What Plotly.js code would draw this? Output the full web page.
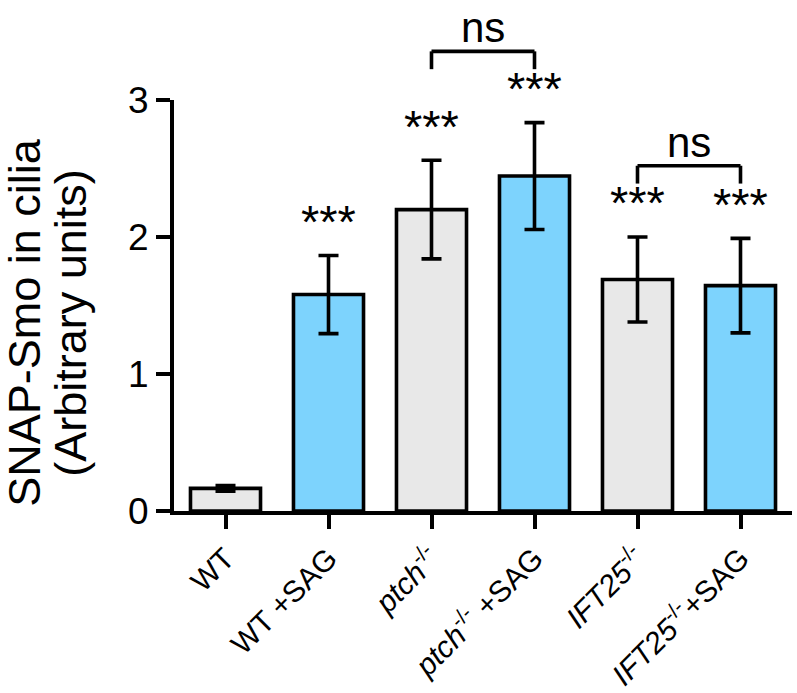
<!DOCTYPE html>
<html>
<head>
<meta charset="utf-8">
<script src="https://cdn.plot.ly/plotly-3.0.1.min.js"></script>
<style>html,body{margin:0;padding:0;background:#fff;}</style>
</head>
<body>
<div id="chart" style="width:797px;height:693px;"></div>
<script>
// ---- data ----
const categories = ["WT", "WT +SAG", "ptch", "ptch +SAG", "IFT25", "IFT25 +SAG"];
const tickLabels = ["WT", "WT +SAG", "<i>ptch</i><sup>-/-</sup>", "<i>ptch</i><sup>-/-</sup> +SAG",
                    "<i>IFT25</i><sup>-/-</sup>", "<i>IFT25</i><sup>-/-</sup>+SAG"];
const means = [0.165, 1.58, 2.20, 2.445, 1.69, 1.645];
const errors = [0.02, 0.285, 0.36, 0.39, 0.31, 0.345];
const barColors = ["#e8e8e8", "#7dd3fd", "#e8e8e8", "#7dd3fd", "#e8e8e8", "#7dd3fd"];
const starLabels = ["", "***", "***", "***", "***", "***"];
const nsPairs = [[2, 3], [4, 5]];
const nsLabels = ["ns", "ns"];
const yTitleLines = ["SNAP-Smo in cilia", "(Arbitrary units)"];
const yMax = 3;

const FONT = "Liberation Sans, Arial, Helvetica, sans-serif";
const PLOT_LEFT = 174, PLOT_W = 618;

const trace = {
  type: "bar",
  x: categories,
  y: means,
  width: 0.68,
  marker: { color: barColors, line: { color: "#000", width: 3.6 } },
  error_y: { type: "data", array: errors, visible: true, color: "#000", thickness: 3.6, width: 10 },
  hoverinfo: "skip"
};

const annotations = [];
const shapes = [];

// significance stars
categories.forEach((c, i) => {
  if (!starLabels[i]) return;
  annotations.push({
    x: c, xref: "x", y: (means[i] + errors[i] + 0.25) / yMax, yref: "paper",
    text: starLabels[i], showarrow: false, xanchor: "center", yanchor: "middle",
    font: { family: FONT, size: 47, color: "#000" }
  });
});

// ns brackets
nsPairs.forEach((p, k) => {
  const top = Math.max(means[p[0]] + errors[p[0]], means[p[1]] + errors[p[1]]) + 0.52;
  const legs = top - 0.13;
  const seg = (xa, ya, xb, yb) => shapes.push({
    type: "line", xref: "x", yref: "paper",
    x0: xa, y0: ya / yMax, x1: xb, y1: yb / yMax,
    line: { color: "#000", width: 3.6 }
  });
  seg(p[0], legs, p[0], top);
  seg(p[0], top, p[1], top);
  seg(p[1], top, p[1], legs);
  annotations.push({
    x: (p[0] + p[1]) / 2, xref: "x", y: top / yMax, yref: "paper",
    text: nsLabels[k], showarrow: false, xanchor: "center", yanchor: "bottom",
    yshift: -2,
    font: { family: FONT, size: 42, color: "#000" }
  });
});

// y-axis title (two rotated lines)
const titleCenters = [25, 71];
yTitleLines.forEach((t, k) => {
  annotations.push({
    xref: "paper", yref: "paper",
    x: (titleCenters[k] - PLOT_LEFT) / PLOT_W, y: 0.458,
    text: t, textangle: -90,
    showarrow: false, xanchor: "center", yanchor: "middle",
    font: { family: FONT, size: 45, color: "#000" }
  });
});

const layout = {
  width: 797, height: 693,
  margin: { l: PLOT_LEFT, r: 797 - PLOT_LEFT - PLOT_W, t: 100, b: 182 },
  paper_bgcolor: "#fff", plot_bgcolor: "#fff",
  showlegend: false,
  font: { family: FONT, color: "#000" },
  xaxis: {
    type: "category",
    range: [-0.5, 5.5],
    tickvals: categories, ticktext: tickLabels,
    tickangle: -45,
    tickfont: { family: FONT, size: 30, color: "#000" },
    showline: true, linecolor: "#000", linewidth: 4,
    ticks: "outside", ticklen: 14, tickwidth: 4, tickcolor: "#000",
    showgrid: false, zeroline: false, fixedrange: true
  },
  yaxis: {
    range: [0, yMax],
    tickvals: [0, 1, 2, 3],
    tickfont: { family: FONT, size: 37, color: "#000" },
    showline: true, linecolor: "#000", linewidth: 4,
    ticks: "outside", ticklen: 14, tickwidth: 4, tickcolor: "#000",
    showgrid: false, zeroline: false, fixedrange: true
  },
  annotations: annotations,
  shapes: shapes
};

Plotly.newPlot("chart", [trace], layout, { displayModeBar: false, staticPlot: true });
</script>
</body>
</html>
